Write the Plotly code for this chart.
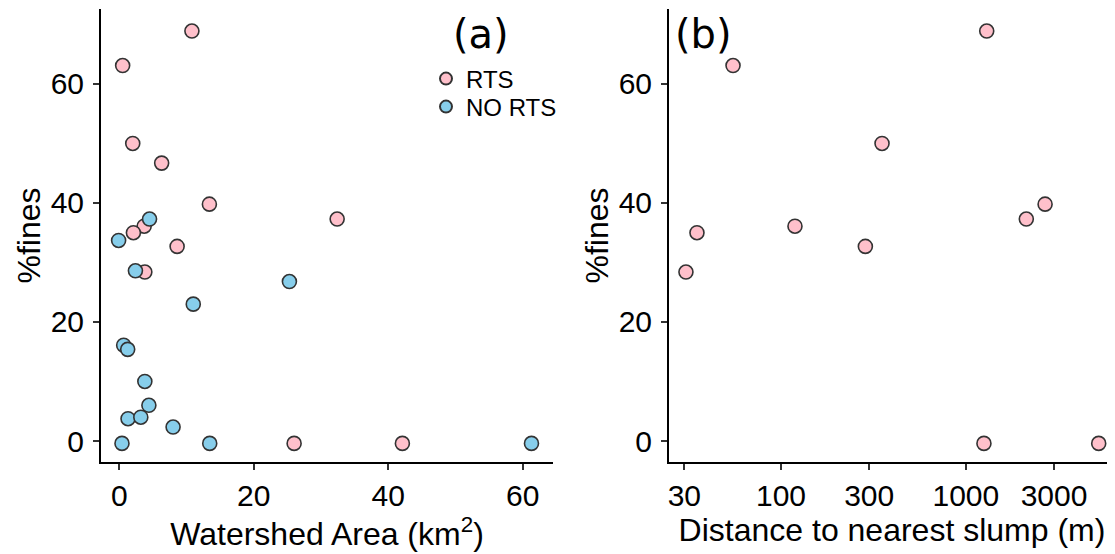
import plotly.graph_objects as go

# Panel (a): watershed area (km2) vs %fines
rts_area = [10.8, 0.5, 2.0, 6.3, 13.4, 32.4, 3.7, 2.1, 8.6, 3.8, 26.0, 42.1]
rts_fines_a = [68.9, 63.1, 50.0, 46.7, 39.8, 37.3, 36.1, 35.0, 32.7, 28.4, -0.4, -0.4]
nort_area = [4.5, -0.1, 2.4, 25.3, 11.0, 0.65, 1.25, 3.8, 4.4, 1.3, 3.2, 8.0, 0.4, 13.45, 61.3]
nort_fines = [37.3, 33.7, 28.6, 26.8, 23.0, 16.1, 15.4, 10.0, 6.0, 3.75, 4.0, 2.35, -0.4, -0.4, -0.4]

# Panel (b): distance to nearest slump (m) vs %fines (RTS sites)
rts_dist = [1297, 55, 352, 2684, 2124, 119, 35.1, 286, 30.6, 1253, 5234]
rts_fines_b = [68.9, 63.1, 50.0, 39.8, 37.3, 36.1, 35.0, 32.7, 28.4, -0.4, -0.4]

x_ticks_a = [0, 20, 40, 60]
x_ticks_b = [30, 100, 300, 1000, 3000]
y_ticks = [0, 20, 40, 60]

PINK = "#FFC0CB"
BLUE = "#87CEEB"
EDGE = "#333333"
FONT = "Liberation Sans, Arial, sans-serif"

# page body has an 8px margin; figure sized to end at the window edge
W, H = 1107, 546
ML, MT, MB = 93, 1, 92
PW, PH = W - ML, H - MT - MB  # 1014 x 453


def px_x(sx):  # screen x -> paper x
    return (sx - 8 - ML) / PW


def px_y(sy):  # screen y -> paper y
    return 1 - (sy - 8 - MT) / PH


marker_common = dict(size=14, line=dict(color=EDGE, width=1.6))

fig = go.Figure()
fig.add_trace(go.Scatter(x=rts_area, y=rts_fines_a, mode="markers", name="RTS", legend="legend",
                         marker=dict(color=PINK, **marker_common), xaxis="x", yaxis="y"))
fig.add_trace(go.Scatter(x=nort_area, y=nort_fines, mode="markers", name="NO RTS", legend="legend2",
                         marker=dict(color=BLUE, **marker_common), xaxis="x", yaxis="y"))
fig.add_trace(go.Scatter(x=rts_dist, y=rts_fines_b, mode="markers", name="RTS",
                         showlegend=False,
                         marker=dict(color=PINK, **marker_common), xaxis="x2", yaxis="y2"))

axis_common = dict(showgrid=False, zeroline=False, showline=True, linecolor="black",
                   linewidth=2, ticks="outside", ticklen=6, tickwidth=2, tickcolor="#333333",
                   tickfont=dict(family=FONT, size=30, color="black"), automargin=False)

TITLE_FONT = dict(family=FONT, size=32, color="black")
legend_common = dict(xanchor="left", yanchor="middle",
                     font=dict(family=FONT, size=24, color="black"), bgcolor="rgba(0,0,0,0)",
                     itemsizing="constant")

fig.update_layout(
    width=W, height=H,
    margin=dict(l=ML, r=0, t=MT, b=MB),
    plot_bgcolor="white", paper_bgcolor="white",
    showlegend=True,
    legend=dict(x=px_x(426), y=px_y(79), **legend_common),
    legend2=dict(x=px_x(426), y=px_y(107), **legend_common),
    xaxis=dict(domain=[0, (553 - 101) / PW], range=[-2.72, 64.5], tickvals=x_ticks_a,
               ticklabelstandoff=0,
               title=dict(text="Watershed Area (km<sup>2</sup>)", standoff=6, font=TITLE_FONT),
               anchor="y", **axis_common),
    yaxis=dict(domain=[0, 1], range=[-3.53, 72.6], tickvals=y_ticks, ticklabelstandoff=3,
               title=dict(text="%fines", standoff=0, font=TITLE_FONT),
               anchor="x", **axis_common),
    xaxis2=dict(domain=[(669 - 101) / PW, 1], type="log", range=[1.394, 3.807],
                tickvals=x_ticks_b, ticktext=[str(v) for v in x_ticks_b], ticklabelstandoff=0,
                title=dict(text="Distance to nearest slump (m)", standoff=6, font=TITLE_FONT),
                anchor="y2", **axis_common),
    yaxis2=dict(domain=[0, 1], range=[-3.53, 72.6], tickvals=y_ticks, ticklabelstandoff=3,
                title=dict(text="%fines", standoff=0, font=TITLE_FONT),
                anchor="x2", **axis_common),
    annotations=[
        dict(text="(a)", x=px_x(481), y=px_y(34), xref="paper", yref="paper",
             xanchor="center", yanchor="middle", showarrow=False,
             font=dict(family="DejaVu Sans", size=40, color="black")),
        dict(text="(b)", x=px_x(703), y=px_y(34), xref="paper", yref="paper",
             xanchor="center", yanchor="middle", showarrow=False,
             font=dict(family="DejaVu Sans", size=40, color="black")),
    ],
)

fig.write_html("out.html")
